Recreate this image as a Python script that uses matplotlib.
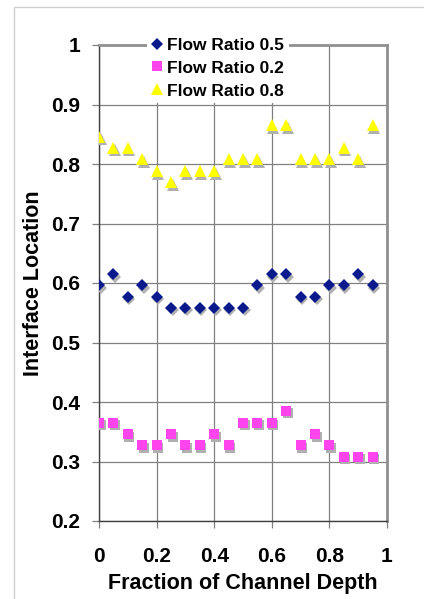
import matplotlib
matplotlib.use("Agg")
import matplotlib.pyplot as plt
from matplotlib.patches import Rectangle
import matplotlib.transforms as mtransforms

plt.rcParams['font.family'] = ['Liberation Sans', 'DejaVu Sans']

depth = [0.0, 0.05, 0.1, 0.15, 0.2, 0.25, 0.3, 0.35, 0.4, 0.45,
         0.5, 0.55, 0.6, 0.65, 0.7, 0.75, 0.8, 0.85, 0.9, 0.95]
flow_05 = [0.596, 0.615, 0.577, 0.596, 0.577, 0.558, 0.558, 0.558, 0.558, 0.558,
           0.558, 0.596, 0.615, 0.615, 0.577, 0.577, 0.596, 0.596, 0.615, 0.596]
flow_02 = [0.365, 0.365, 0.346, 0.327, 0.327, 0.346, 0.327, 0.327, 0.346, 0.327,
           0.365, 0.365, 0.365, 0.385, 0.327, 0.346, 0.327, 0.308, 0.308, 0.308]
flow_08 = [0.846, 0.827, 0.827, 0.808, 0.788, 0.769, 0.788, 0.788, 0.788, 0.808,
           0.808, 0.808, 0.865, 0.865, 0.808, 0.808, 0.808, 0.827, 0.808, 0.865]
labels = ['Flow Ratio 0.5', 'Flow Ratio 0.2', 'Flow Ratio 0.8']
xticks = [0, 0.2, 0.4, 0.6, 0.8, 1]
xticklabels = ['0', '0.2', '0.4', '0.6', '0.8', '1']
yticks = [0.2, 0.3, 0.4, 0.5, 0.6, 0.7, 0.8, 0.9, 1.0]
yticklabels = ['0.2', '0.3', '0.4', '0.5', '0.6', '0.7', '0.8', '0.9', '1']

fig = plt.figure(figsize=(4.24, 5.99), dpi=100)
fig.patches.append(Rectangle((14/424, -0.1), 1.2, 1 - 7/599 + 0.1,
                             transform=fig.transFigure, fill=False,
                             edgecolor='#d0d0d0', linewidth=1.0))
ax = fig.add_axes([99/424, 1 - 521/599, (387 - 99)/424, (521 - 45)/599])

shadow = mtransforms.offset_copy(ax.transData, fig=fig, x=1.5, y=-2.5, units='dots')
series = [(flow_05, 'D', '#0a1a8c', 6.3),
          (flow_02, 's', '#ff44ee', 7.6),
          (flow_08, '^', '#ffff00', 8.2)]
handles = []
for (vals, m, c, s), lab in zip(series, labels):
    ax.plot(depth, vals, linestyle='none', marker=m, markersize=s,
            color='#b0b0b0', markeredgewidth=0, transform=shadow, zorder=3)
    h, = ax.plot(depth, vals, linestyle='none', marker=m, markersize=s,
                 color=c, markeredgewidth=0, zorder=4, label=lab)
    handles.append(h)

ax.set_xlim(0, 1)
ax.set_ylim(0.2, 1.0)
ax.set_xticks(xticks)
ax.set_xticklabels(xticklabels)
ax.set_yticks(yticks)
ax.set_yticklabels(yticklabels)
ax.grid(True, color='#808080', linewidth=0.9)
ax.set_axisbelow(True)
for sp in ['left', 'bottom']:
    ax.spines[sp].set_color('#404040')
    ax.spines[sp].set_linewidth(1.0)
for sp in ['top', 'right']:
    ax.spines[sp].set_color('#909090')
    ax.spines[sp].set_linewidth(2.0)
ax.tick_params(axis='both', direction='out', length=5, width=0.9, color='#808080',
               labelsize=15)
ax.tick_params(axis='x', pad=14)
ax.tick_params(axis='y', pad=8.5)
for t in ax.get_xticklabels() + ax.get_yticklabels():
    t.set_fontweight('bold')
ax.set_xlabel('Fraction of Channel Depth', fontsize=15.5, fontweight='bold', labelpad=5)
ax.set_ylabel('Interface Location', fontsize=15.5, fontweight='bold', labelpad=5)

leg = ax.legend(handles=handles, loc='upper left', bbox_to_anchor=(0.165, 1.025),
                frameon=True, fancybox=False, framealpha=1, edgecolor='none',
                facecolor='white', prop={'weight': 'bold', 'size': 12.5},
                handlelength=0.7, handletextpad=0.25, labelspacing=0.45,
                borderpad=0.25, borderaxespad=0, markerscale=1.0)
leg.set_zorder(5)

fig.savefig('out.png', dpi=100, facecolor='white')
